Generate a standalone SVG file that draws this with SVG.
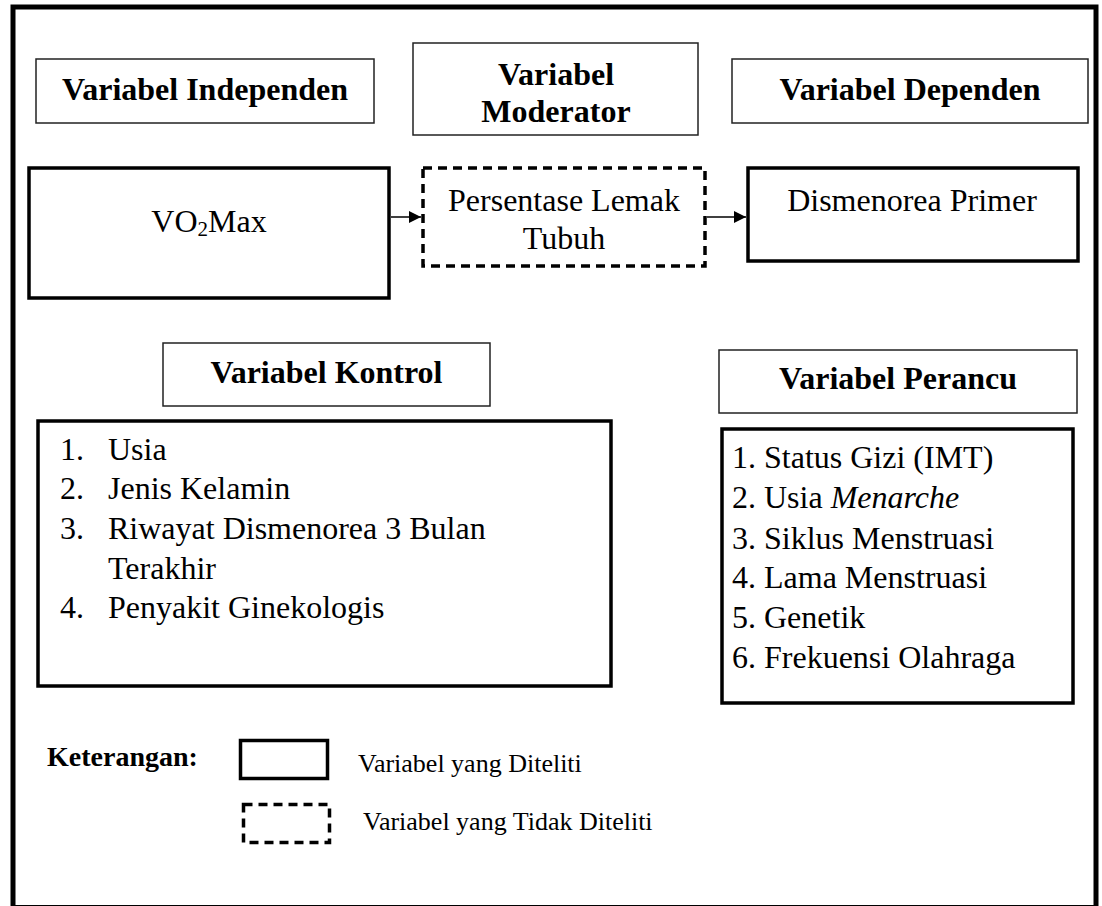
<svg xmlns="http://www.w3.org/2000/svg" width="1102" height="906" viewBox="0 0 1102 906">
<style>
text{font-family:"Liberation Serif","Times New Roman",serif;fill:#000}
.h{font-size:32px;font-weight:bold}
.b{font-size:32px}
.l{font-size:26px}
.k{font-size:28px;font-weight:bold}
.t{fill:#fff;stroke:#222;stroke-width:1.5}
.s{fill:#fff;stroke:#000;stroke-width:3.5}
.d{fill:#fff;stroke:#000;stroke-width:3.5;stroke-dasharray:9 6}
.c{stroke:#000;stroke-width:1.5;fill:none}
</style>
<defs>
<marker id="ah" markerUnits="userSpaceOnUse" markerWidth="12" markerHeight="12" refX="12" refY="6" orient="auto">
<path d="M0,0 L12,6 L0,12 z" fill="#000"/>
</marker>
</defs>
<rect width="1102" height="906" fill="#fff"/>
<rect id="frame" x="13" y="7" width="1083" height="900.5" fill="none" stroke="#000" stroke-width="5"/>

<g id="title-independen">
<rect class="t" x="36" y="59" width="338" height="64"/>
<text class="h" x="205" y="100" text-anchor="middle">Variabel Independen</text>
</g>
<g id="title-moderator">
<rect class="t" x="413" y="43" width="285" height="92"/>
<text class="h" x="556" y="85" text-anchor="middle">Variabel</text>
<text class="h" x="556" y="122" text-anchor="middle">Moderator</text>
</g>
<g id="title-dependen">
<rect class="t" x="732" y="59" width="356" height="64"/>
<text class="h" x="910" y="100" text-anchor="middle">Variabel Dependen</text>
</g>

<g id="node-vo2max">
<rect class="s" x="29" y="168" width="360" height="130"/>
<text class="b" x="209" y="232" text-anchor="middle">VO<tspan font-size="21" dy="4">2</tspan><tspan dy="-4">Max</tspan></text>
</g>
<g id="node-lemak">
<rect class="d" x="423" y="168" width="282" height="98"/>
<text class="b" x="564" y="211" text-anchor="middle">Persentase Lemak</text>
<text class="b" x="564" y="249" text-anchor="middle">Tubuh</text>
</g>
<g id="node-dismenorea">
<rect class="s" x="748" y="168" width="330" height="93"/>
<text class="b" x="912" y="211" text-anchor="middle">Dismenorea Primer</text>
</g>

<g id="connectors">
<line class="c" x1="391" y1="217" x2="421" y2="217" marker-end="url(#ah)"/>
<line class="c" x1="707" y1="217" x2="746" y2="217" marker-end="url(#ah)"/>
</g>

<g id="title-kontrol">
<rect class="t" x="163" y="343" width="327" height="63"/>
<text class="h" x="326.5" y="383" text-anchor="middle">Variabel Kontrol</text>
</g>
<g id="list-kontrol">
<rect class="s" x="38" y="421" width="573" height="265"/>
<text class="b" x="60" y="460">1.</text><text class="b" x="108" y="460">Usia</text>
<text class="b" x="60" y="499">2.</text><text class="b" x="108" y="499">Jenis Kelamin</text>
<text class="b" x="60" y="539">3.</text><text class="b" x="108" y="539">Riwayat Dismenorea 3 Bulan</text>
<text class="b" x="108" y="579">Terakhir</text>
<text class="b" x="60" y="618">4.</text><text class="b" x="108" y="618">Penyakit Ginekologis</text>
</g>

<g id="title-perancu">
<rect class="t" x="719" y="350" width="358" height="63"/>
<text class="h" x="898" y="389" text-anchor="middle">Variabel Perancu</text>
</g>
<g id="list-perancu">
<rect class="s" x="722" y="429" width="351" height="274"/>
<text class="b" x="732" y="468">1. Status Gizi (IMT)</text>
<text class="b" x="732" y="508">2. Usia <tspan font-style="italic">Menarche</tspan></text>
<text class="b" x="732" y="549">3. Siklus Menstruasi</text>
<text class="b" x="732" y="588">4. Lama Menstruasi</text>
<text class="b" x="732" y="628">5. Genetik</text>
<text class="b" x="732" y="668">6. Frekuensi Olahraga</text>
</g>

<g id="legend">
<text class="k" x="47" y="766">Keterangan:</text>
<rect class="s" x="240.5" y="740.5" width="87" height="38"/>
<text class="l" x="358" y="772">Variabel yang Diteliti</text>
<rect class="d" x="243.5" y="804.5" width="86" height="38"/>
<text class="l" x="363" y="830">Variabel yang Tidak Diteliti</text>
</g>
</svg>
